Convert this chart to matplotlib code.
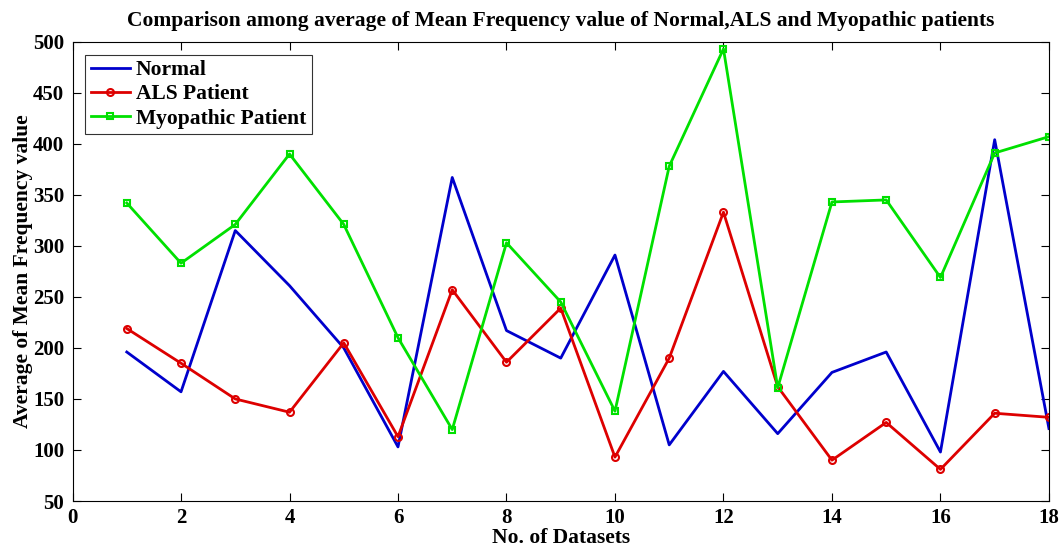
import matplotlib
matplotlib.use("Agg")
import matplotlib.pyplot as plt
import numpy as np

# data
datasets = np.arange(1, 19)
normal = [196, 157, 315, 261, 200, 103, 367, 217, 190, 291, 105, 177, 116, 176, 196, 98, 404, 121]
als = [219, 185, 150, 137, 205, 113, 257, 186, 239, 93, 190, 333, 162, 90, 127, 81, 136, 132]
myopathic = [342, 283, 321, 390, 321, 210, 120, 303, 245, 138, 378, 493, 161, 343, 345, 269, 391, 407]

plt.rcParams['font.family'] = ['Liberation Serif', 'DejaVu Serif']
plt.rcParams['font.weight'] = 'bold'

fig = plt.figure(figsize=(10.62, 5.49), dpi=100)
ax = fig.add_axes([0.0683, 0.0874, 0.9194, 0.8366])

ax.plot(datasets, normal, '-', color='#0000cc', lw=2, label='Normal')
ax.plot(datasets, als, '-o', color='#dd0000', lw=2, ms=5, mfc='none', mew=1.5, label='ALS Patient')
ax.plot(datasets, myopathic, '-s', color='#00e000', lw=2, ms=5, mfc='none', mew=1.5, label='Myopathic Patient')

ax.set_xlim(0, 18)
ax.set_ylim(50, 500)
ax.set_xticks(np.arange(0, 19, 2))
ax.set_yticks(np.arange(50, 501, 50))
ax.tick_params(direction='in', top=True, right=True, labelsize=15, length=6)
ax.tick_params(axis='x', pad=5)
ax.tick_params(axis='y', pad=6)
for lbl in ax.get_xticklabels() + ax.get_yticklabels():
    lbl.set_fontweight('bold')

ax.set_title('Comparison among average of Mean Frequency value of Normal,ALS and Myopathic patients',
             fontsize=15.5, fontweight='bold', pad=11)
ax.set_xlabel('No. of Datasets', fontsize=15.5, fontweight='bold', labelpad=0)
ax.set_ylabel('Average of Mean Frequency value', fontsize=15.5, fontweight='bold', labelpad=0)

leg = ax.legend(loc='upper left', fontsize=15.5, frameon=True, fancybox=False,
                edgecolor='black', borderaxespad=0.6, handlelength=1.8, handletextpad=0.3,
                labelspacing=0.2, borderpad=0.25)
leg.get_frame().set_linewidth(0.8)

fig.savefig('out.png', dpi=100)
